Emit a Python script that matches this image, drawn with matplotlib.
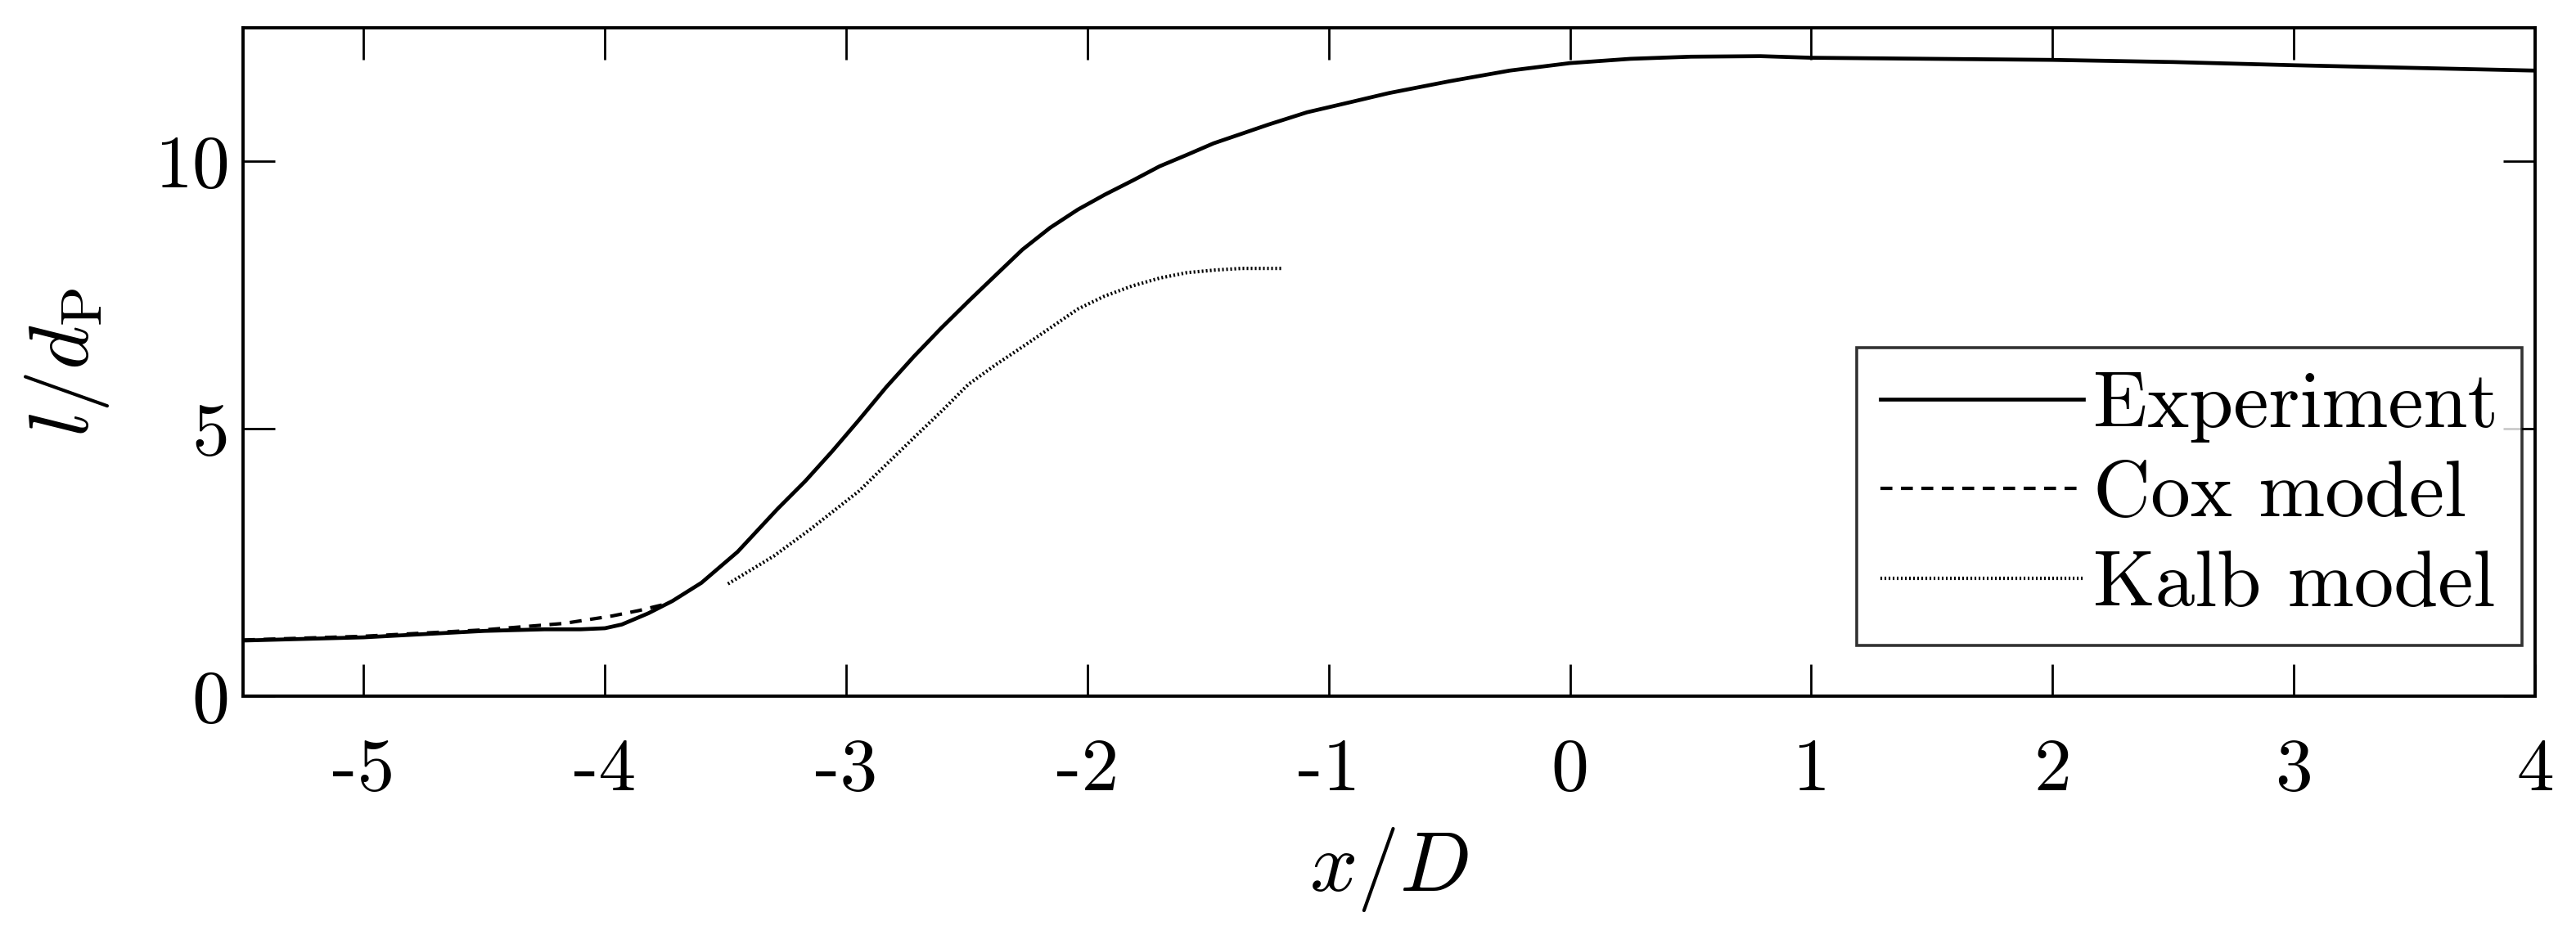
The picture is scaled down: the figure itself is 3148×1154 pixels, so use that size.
import matplotlib
matplotlib.use("Agg")
import matplotlib.pyplot as plt

plt.rcParams['mathtext.fontset'] = 'cm'
plt.rcParams['font.family'] = ['cmr10', 'DejaVu Serif']
plt.rcParams['axes.unicode_minus'] = False

# Data
exp_x = [-5.5, -5.0, -4.5, -4.25, -4.1, -4.0, -3.93, -3.82, -3.72, -3.6, -3.45, -3.285,
         -3.17, -3.058, -2.95, -2.834, -2.72, -2.607, -2.49, -2.379, -2.27, -2.155, -2.04,
         -1.928, -1.81, -1.701, -1.59, -1.477, -1.36, -1.25, -1.09, -0.9, -0.75, -0.5, -0.25,
         0.0, 0.25, 0.5, 0.79, 1.0, 1.5, 2.0, 2.5, 3.0, 3.5, 4.0]
exp_y = [1.04, 1.1, 1.22, 1.25, 1.25, 1.27, 1.34, 1.55, 1.78, 2.12, 2.7, 3.5,
         4.02, 4.58, 5.15, 5.78, 6.35, 6.88, 7.4, 7.88, 8.35, 8.76, 9.1,
         9.38, 9.65, 9.91, 10.12, 10.34, 10.52, 10.69, 10.92, 11.12, 11.28, 11.5, 11.7,
         11.84, 11.92, 11.96, 11.97, 11.94, 11.92, 11.9, 11.86, 11.8, 11.75, 11.7]

cox_x = [-5.5, -5.0, -4.5, -4.17, -4.07, -3.97, -3.86, -3.75]
cox_y = [1.05, 1.12, 1.24, 1.36, 1.43, 1.5, 1.6, 1.72]

kalb_x = [-3.49, -3.3, -3.149, -2.946, -2.83, -2.718, -2.6, -2.494, -2.38, -2.267, -2.15,
          -2.04, -1.93, -1.816, -1.7, -1.589, -1.47, -1.362, -1.19]
kalb_y = [2.1, 2.62, 3.12, 3.84, 4.35, 4.84, 5.35, 5.83, 6.2, 6.54, 6.9,
          7.24, 7.48, 7.67, 7.82, 7.92, 7.97, 8.0, 8.0]

xticks = [-5, -4, -3, -2, -1, 0, 1, 2, 3, 4]
xtick_labels = ['-5', '-4', '-3', '-2', '-1', '0', '1', '2', '3', '4']
yticks = [0, 5, 10]
ytick_labels = ['0', '5', '10']

W, H = 3148, 1154
fig = plt.figure(figsize=(W / 100, H / 100), dpi=100)
ax = fig.add_axes([297 / W, 1 - 851 / H, (3098 - 297) / W, (851 - 34) / H])

ax.plot(exp_x, exp_y, color='black', lw=3.4, label='Experiment')
ax.plot(cox_x, cox_y, color='black', lw=3.0, linestyle=(0, (3.5, 2.5)), label='Cox model')
ax.plot(kalb_x, kalb_y, color='black', lw=3.0, linestyle=(0, (0.5, 0.7)), label='Kalb model')

ax.set_xlim(-5.5, 4)
ax.set_ylim(0, 12.5)
ax.set_xticks(xticks)
ax.set_xticklabels(xtick_labels)
ax.set_yticks(yticks)
ax.set_yticklabels(ytick_labels)
ax.tick_params(direction='in', length=28, width=2, top=True, right=True, labelsize=66)
ax.tick_params(axis='x', pad=37)
ax.tick_params(axis='y', pad=12)
for s in ax.spines.values():
    s.set_linewidth(2.8)

ax.set_xlabel(r'$x/D$', fontsize=74, labelpad=18)
ax.set_ylabel(r'$l/d_{\mathrm{P}}$', fontsize=74, labelpad=38)

leg = ax.legend(loc='lower right', bbox_to_anchor=(3082 / W, 1 - 789 / H),
                bbox_transform=fig.transFigure, borderaxespad=0,
                fontsize=70, frameon=True, fancybox=False,
                edgecolor='black', handlelength=2.55, handletextpad=0.12,
                labelspacing=0.23, borderpad=0.3)
leg.get_frame().set_linewidth(2.6)

fig.savefig('out.png', dpi=100)
